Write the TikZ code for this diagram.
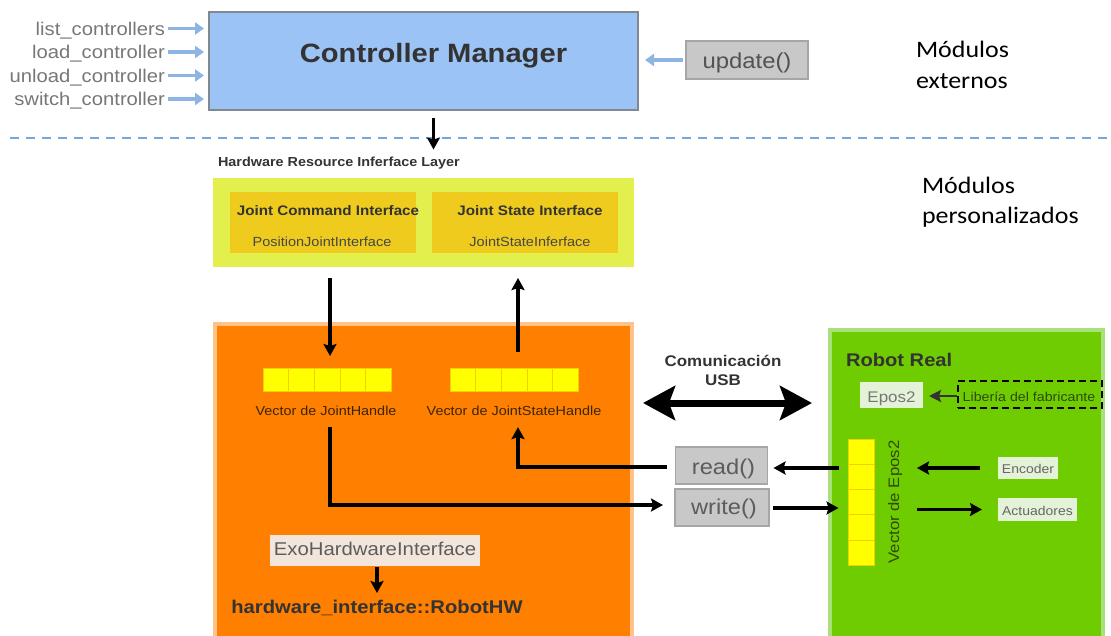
\documentclass[tikz,border=0pt]{standalone}
\usepackage{fontspec}
\setmainfont{Liberation Sans}[FakeStretch=1.1]
\newfontfamily\calib{Carlito}[FakeStretch=1.1]
\usetikzlibrary{arrows.meta,calc}
\definecolor{cmblue}{HTML}{9CC3F5}
\definecolor{cmedge}{HTML}{808890}
\definecolor{arrblue}{HTML}{8DB4E2}
\definecolor{dashblue}{HTML}{6FA8DC}
\definecolor{lgray}{HTML}{C8C8C8}
\definecolor{lgedge}{HTML}{A6A6A6}
\definecolor{txtdark}{HTML}{333333}
\definecolor{txtgray}{HTML}{777777}
\definecolor{hwlayer}{HTML}{E3EF4C}
\definecolor{hwinner}{HTML}{EECB1C}
\definecolor{orangebg}{HTML}{FF7F00}
\definecolor{orangeedge}{HTML}{FFC28A}
\definecolor{greenbg}{HTML}{6FCC00}
\definecolor{greenedge}{HTML}{A8E07A}
\definecolor{cellyel}{HTML}{FFFF00}
\definecolor{celledge}{HTML}{F0D000}
\definecolor{paleg}{HTML}{E4F2D8}
\definecolor{palebeige}{HTML}{F2E6DC}
\definecolor{brown}{HTML}{3A2600}
\definecolor{olive}{HTML}{2F4A0A}
\newcommand\fsz[2]{\fontsize{#1}{#2}\selectfont}
\begin{document}
\begin{tikzpicture}[x=1pt,y=-1pt,
  box/.style={inner sep=0pt, outer sep=0pt},
  lbl/.style={inner sep=0pt, outer sep=0pt},
  barr/.style={draw=arrblue, line width=3.2pt, -{Triangle[length=9pt,width=12pt]}},
  karr/.style={draw=black, line width=3.3pt, -{Stealth[length=12pt,width=13pt,inset=2pt]}},
  cell/.style={fill=cellyel, draw=celledge, line width=0.6pt, inner sep=0pt, outer sep=0pt},
  graybox/.style={box, fill=lgray, draw=lgedge, line width=1.5pt},
]
\useasboundingbox (0,0) rectangle (1111,635);

% ---------- top part
\node[box, fill=cmblue, draw=cmedge, line width=1.8pt, minimum width=429pt, minimum height=98pt] (cm) at (423.5,61) {};
\node[lbl, anchor=base, text=txtdark] (cmt) at (433.5,62) {\fsz{26.5}{30}\bfseries Controller Manager};

\node[lbl, anchor=base east, text=txtgray] (l1) at (165,35) {\fsz{18.4}{22}list\_controllers};
\node[lbl, anchor=base east, text=txtgray] (l2) at (165,58.5) {\fsz{18.4}{22}load\_controller};
\node[lbl, anchor=base east, text=txtgray] (l3) at (165,82) {\fsz{18.4}{22}unload\_controller};
\node[lbl, anchor=base east, text=txtgray] (l4) at (165,105.5) {\fsz{18.4}{22}switch\_controller};
\foreach \n in {l1,l2,l3,l4}{
  \draw[barr] ([shift={(3,-6.5)}]\n.base east) -- ([shift={(39,-6.5)}]\n.base east);
}

\node[graybox, minimum width=122pt, minimum height=38pt] (upd) at (747,60) {};
\node[lbl, anchor=base, text=txtdark!85] (updt) at (747,68) {\fsz{21.7}{24}update()};
\draw[barr] ([xshift=-3pt]upd.west) -- ([xshift=7pt]cm.east |- upd.west);

\node[lbl, anchor=base west, align=left, font=\calib\fsz{23.6}{31}] (ext) at (916,88) {Módulos\\externos};

\draw[dashblue, line width=1.8pt, dash pattern=on 9pt off 7pt] (10,138) -- (1111,138);

% ---------- hardware resource layer
\node[lbl, anchor=base west, text=txtdark] (hwt) at (218,166) {\fsz{13.1}{15}\bfseries Hardware Resource Inferface Layer};
\draw[karr] ([yshift=-8pt]cm.south -| cmt.base) -- ([yshift=7pt]hwt.north -| cmt.base);

\node[box, fill=hwlayer, minimum width=421pt, minimum height=89pt] (hw) at (423.5,222.5) {};
\node[box, fill=hwinner, minimum width=186pt, minimum height=61pt] (jci) at (323,222.5) {};
\node[box, fill=hwinner, minimum width=186pt, minimum height=61pt] (jsi) at (525,222.5) {};
\node[lbl, anchor=base, text=txtdark] at (328,215) {\fsz{13.8}{16}\bfseries Joint Command Interface};
\node[lbl, anchor=base, text=txtdark!90] at (322,246) {\fsz{13.2}{16}PositionJointInterface};
\node[lbl, anchor=base, text=txtdark] at (530,215) {\fsz{13.8}{16}\bfseries Joint State Interface};
\node[lbl, anchor=base, text=txtdark!90] at (530,246) {\fsz{13.2}{16}JointStateInferface};

\node[lbl, anchor=base west, align=left, font=\calib\fsz{23.6}{30}] (pers) at (922,223) {Módulos\\personalizados};

% ---------- orange block
\draw[fill=orangebg, draw=orangeedge, line width=4pt] (215,324) rectangle (632,650);

\foreach \i in {1,...,5}{
  \node[cell, minimum width=25.6pt, minimum height=23pt] (vl\i) at ({263+(\i-0.5)*25.6},379.5) {};
  \node[cell, minimum width=25.6pt, minimum height=23pt] (vr\i) at ({450+(\i-0.5)*25.6},379.5) {};
}
\node[lbl, anchor=base, text=brown] (vlt) at (326,415) {\fsz{13.1}{15}Vector de JointHandle};
\node[lbl, anchor=base, text=brown] (vrt) at (514,415) {\fsz{13.1}{15}Vector de JointStateHandle};

\coordinate (dA) at (330,278);
\coordinate (dB) at (330,356);
\draw[karr] (dA) -- (dB);
\coordinate (uA) at (518,352);
\coordinate (uB) at (518,278);
\draw[karr] (uA) -- (uB);

\node[box, fill=palebeige, minimum width=210pt, minimum height=31pt] (exo) at (375,550.5) {};
\node[lbl, anchor=base, text=txtdark!80] at (375,555.5) {\fsz{18.5}{21}ExoHardwareInterface};
\node[lbl, anchor=base, text=txtdark] (rhw) at (377,613) {\fsz{18.4}{21}\bfseries hardware\_interface::RobotHW};
\draw[karr] ([yshift=-1pt]exo.south -| rhw.base) -- ([yshift=20pt]rhw.base);

% ---------- read / write
\node[graybox, minimum width=92pt, minimum height=37pt] (rd) at (721.5,465.5) {};
\node[lbl, anchor=base, text=txtdark!80] at (723.5,474) {\fsz{21.5}{24}read()};
\node[graybox, minimum width=94pt, minimum height=37pt] (wr) at (722,507.5) {};
\node[lbl, anchor=base, text=txtdark!80] at (724,514) {\fsz{21.5}{24}write()};

\draw[karr] ([xshift=-9pt]rd.west |- 0,467) -| ([yshift=-12pt]vrt.south -| uA);
\draw[karr] ([yshift=-12pt]vlt.south -| dA) |- ([xshift=-12pt]wr.west |- 0,505);

% ---------- USB
\node[lbl, anchor=base, align=center, text=txtdark, font=\fsz{15.4}{19}\bfseries] (usb) at (723,385) {Comunicación\\USB};
\coordinate (usbL) at (643,403);
\coordinate (usbR) at (812,403);
\draw[line width=7pt, {Stealth[length=32pt,width=34pt,inset=6pt]}-{Stealth[length=32pt,width=34pt,inset=6pt]}] (usbL) -- (usbR);

% ---------- green block
\draw[fill=greenbg, draw=greenedge, line width=4pt] (830,330) rectangle (1103,650);
\node[lbl, anchor=base west, text=txtdark] at (846,366) {\fsz{18.3}{21}\bfseries Robot Real};

\node[box, fill=paleg, minimum width=63pt, minimum height=26pt] (ep) at (891.5,395) {};
\node[lbl, anchor=base, text=txtgray] at (891.5,402) {\fsz{15.4}{18}Epos2};
\node[box, draw=black, line width=2pt, dash pattern=on 7pt off 4pt, minimum width=144pt, minimum height=27pt] (lib) at (1030,394.5) {};
\node[lbl, anchor=base, text=olive] at (1029,401) {\fsz{12.9}{15}Libería del fabricante};
\draw[draw=txtdark, line width=2.6pt, -{Stealth[length=12pt,width=12pt,inset=2pt]}] ([xshift=-1pt]lib.west |- 0,396) -- ([xshift=6pt]ep.east |- 0,396);

\foreach \i in {1,...,5}{
  \node[cell, minimum width=26pt, minimum height=25.2pt] (ve\i) at (861.5,{439+(\i-0.5)*25.2}) {};
}
\node[lbl, anchor=base, rotate=90, text=olive] (vet) at (899,502) {\fsz{15.2}{18}Vector de Epos2};

\draw[karr] ([xshift=-10pt]ve2.west |- 0,468) -- ([xshift=6pt]rd.east |- 0,468);
\draw[karr] ([xshift=4pt]wr.east |- 0,508) -- ([xshift=-10pt]ve3.west |- 0,508);

\node[box, fill=paleg, minimum width=60pt, minimum height=22pt] (enc) at (1028,468) {};
\node[lbl, anchor=base, text=txtdark!75] at (1028,473) {\fsz{12.7}{15}Encoder};
\node[box, fill=paleg, minimum width=79pt, minimum height=23pt] (act) at (1037.5,509.5) {};
\node[lbl, anchor=base, text=txtdark!75] at (1037.5,515) {\fsz{12.7}{15}Actuadores};

\draw[karr] ([xshift=-18pt]enc.west) -- ([xshift=18pt]vet.base |- enc.west);
\draw[karr] ([xshift=18pt]vet.base |- act.west) -- ([xshift=-16pt]act.west);
\end{tikzpicture}
\end{document}
